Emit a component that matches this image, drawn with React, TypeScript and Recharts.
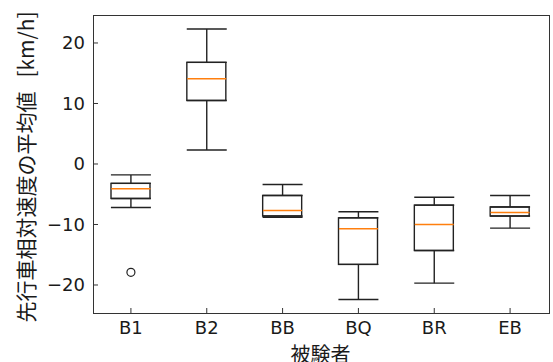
import { ComposedChart, Bar, Scatter, ErrorBar, XAxis, YAxis, Label } from "recharts";

const subjects = ["B1", "B2", "BB", "BQ", "BR", "EB"];
const whiskerLow = [-7.2, 2.3, -8.8, -22.4, -19.7, -10.6];
const quartile1 = [-5.7, 10.5, -8.6, -16.6, -14.3, -8.6];
const medians = [-4.1, 14.1, -7.7, -10.7, -10.0, -8.0];
const quartile3 = [-3.2, 16.8, -5.2, -8.9, -6.8, -7.1];
const whiskerHigh = [-1.8, 22.3, -3.4, -7.9, -5.5, -5.2];
const outliers = [-17.9, null, null, null, null, null];
const yTicks = [-20, -10, 0, 10, 20];

const data = subjects.map((name, i) => ({
  name,
  box: [quartile1[i], quartile3[i]],
  med: medians[i],
  q1: quartile1[i],
  q3: quartile3[i],
  upErr: [0, whiskerHigh[i] - quartile3[i]],
  loErr: [quartile1[i] - whiskerLow[i], 0],
  outlier: outliers[i],
}));

const BOX_W = 39;
const tickFont = { fontFamily: "DejaVu Sans", fontSize: 18, fill: "#1a1a1a" };
const cjkFont = "'Noto Sans CJK JP', sans-serif";

const BoxShape = (p: any) => (
  <rect
    x={p.x}
    y={Math.min(p.y, p.y + p.height)}
    width={p.width}
    height={Math.abs(p.height)}
    fill="none"
    stroke="#222"
    strokeWidth={1.4}
  />
);

const MedianShape = (p: any) => (
  <line x1={p.cx - BOX_W / 2} x2={p.cx + BOX_W / 2} y1={p.cy} y2={p.cy} stroke="#ff7f0e" strokeWidth={1.5} />
);

const OutlierShape = (p: any) =>
  p.payload && p.payload.outlier != null ? (
    <circle cx={p.cx} cy={p.cy} r={4} fill="none" stroke="#222" strokeWidth={1.2} />
  ) : (
    <g />
  );

const Hidden = () => <g />;

const minusFmt = (v: number) => String(v).replace("-", "\u2212");

export default function App() {
  return (
    <div style={{ position: "fixed", left: 0, top: 0, width: 553, height: 362, background: "#fff" }}>
      <ComposedChart
        width={553}
        height={362}
        data={data}
        margin={{ top: 16, right: 5, bottom: 0, left: 0 }}
      >
        <XAxis
          dataKey="name"
          height={49}
          axisLine={false}
          tickSize={-5}
          tickMargin={13}
          tickLine={{ stroke: "#333" }}
          tick={tickFont}
        >
          <Label
            content={(props: any) => {
              const vb = props.viewBox;
              return (
                <text
                  x={vb.x + vb.width / 2}
                  y={353}
                  textAnchor="middle"
                  dominantBaseline="central"
                  fontFamily={cjkFont}
                  fontSize={20}
                  fill="#1a1a1a"
                >
                  被験者
                </text>
              );
            }}
          />
        </XAxis>
        <YAxis
          type="number"
          width={93}
          domain={[-24.63, 24.46]}
          ticks={yTicks}
          allowDataOverflow
          axisLine={false}
          tickSize={-5}
          tickMargin={13}
          tickLine={{ stroke: "#333" }}
          tick={tickFont}
          tickFormatter={minusFmt}
        >
          <Label
            content={() => (
              <text
                x={25}
                y={167}
                transform="rotate(-90, 25, 167)"
                textAnchor="middle"
                dominantBaseline="central"
                fontFamily={cjkFont}
                fontSize={21}
                fill="#1a1a1a"
              >
                先行車相対速度の平均値<tspan dx={14}>[km/h]</tspan>
              </text>
            )}
          />
        </YAxis>
        <Bar dataKey="box" barSize={BOX_W} shape={BoxShape} isAnimationActive={false} />
        <Scatter dataKey="q3" shape={Hidden} isAnimationActive={false}>
          <ErrorBar dataKey="upErr" direction="y" width={20} stroke="#222" strokeWidth={1.4} isAnimationActive={false} />
        </Scatter>
        <Scatter dataKey="q1" shape={Hidden} isAnimationActive={false}>
          <ErrorBar dataKey="loErr" direction="y" width={20} stroke="#222" strokeWidth={1.4} isAnimationActive={false} />
        </Scatter>
        <Scatter dataKey="med" shape={MedianShape} isAnimationActive={false} />
        <Scatter dataKey="outlier" shape={OutlierShape} isAnimationActive={false} />
      </ComposedChart>
      <div
        style={{
          position: "absolute",
          left: 93,
          top: 15,
          width: 455,
          height: 297,
          border: "1px solid #333",
          pointerEvents: "none",
        }}
      />
    </div>
  );
}
